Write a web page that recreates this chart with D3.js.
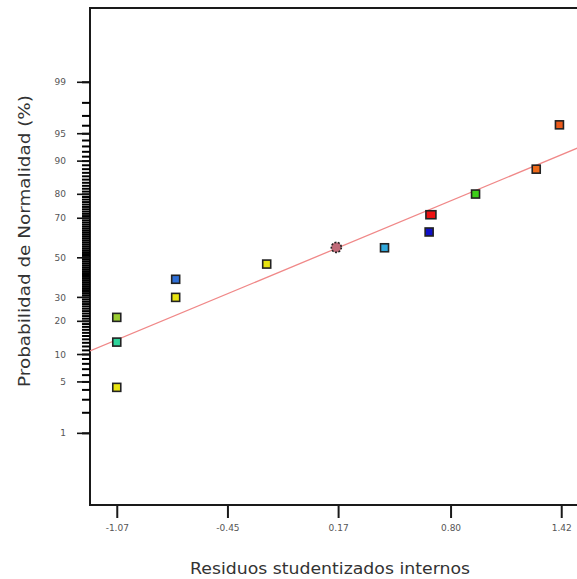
<!DOCTYPE html>
<html>
<head>
<meta charset="utf-8">
<script src="https://cdn.jsdelivr.net/npm/d3@7"></script>
<style>
  html, body { margin: 0; padding: 0; background: #fff; }
  svg { display: block; }
</style>
</head>
<body>
<svg id="chart" width="577" height="579"></svg>
<script>
// ---- data ----
const residuals = [-1.07, -1.07, -1.07, -0.74, -0.74, -0.23, 0.16, 0.43, 0.68, 0.69, 0.94, 1.28, 1.41];
const probabilities = [4.3, 13.2, 21.5, 30.0, 38.8, 46.7, 55.5, 55.3, 63.4, 71.6, 80.1, 88.0, 96.1];
const xTickValues = [-1.07, -0.45, 0.17, 0.80, 1.42];
const xTickLabels = ["-1.07", "-0.45", "0.17", "0.80", "1.42"];
const yTickValues = [1, 5, 10, 20, 30, 50, 70, 80, 90, 95, 99];
const yMinorTicks = d3.range(1, 100);
const fitMean = 0.0335;
const fitSd = 1.016;

// ---- styles ----
const pointColors = ["#e8e410", "#2fd39a", "#9acd32", "#e8e410", "#2f6fd6", "#e8e410", "#c06a78",
                     "#2fa8dc", "#1010c8", "#ee1010", "#3dd01a", "#ee6a1a", "#ec5a1a"];
const pointShapes = ["s","s","s","s","s","s","c","s","s","r","s","s","s"];

// inverse normal CDF (Acklam)
function probit(p) {
  const a = [-3.969683028665376e+01, 2.209460984245205e+02, -2.759285104469687e+02, 1.383577518672690e+02, -3.066479806614716e+01, 2.506628277459239e+00];
  const b = [-5.447609879822406e+01, 1.615858368580409e+02, -1.556989798598866e+02, 6.680131188771972e+01, -1.328068155288572e+01];
  const c = [-7.784894002430293e-03, -3.223964580411365e-01, -2.400758277161838e+00, -2.549732539343734e+00, 4.374664141464968e+00, 2.938163982698783e+00];
  const d = [7.784695709041462e-03, 3.224671290700398e-01, 2.445134137142996e+00, 3.754408661907416e+00];
  const pl = 0.02425, ph = 1 - pl;
  let q, r;
  if (p < pl) { q = Math.sqrt(-2 * Math.log(p));
    return (((((c[0]*q+c[1])*q+c[2])*q+c[3])*q+c[4])*q+c[5]) / ((((d[0]*q+d[1])*q+d[2])*q+d[3])*q+1); }
  if (p <= ph) { q = p - 0.5; r = q*q;
    return (((((a[0]*r+a[1])*r+a[2])*r+a[3])*r+a[4])*r+a[5])*q / (((((b[0]*r+b[1])*r+b[2])*r+b[3])*r+b[4])*r+1); }
  q = Math.sqrt(-2 * Math.log(1 - p));
  return -(((((c[0]*q+c[1])*q+c[2])*q+c[3])*q+c[4])*q+c[5]) / ((((d[0]*q+d[1])*q+d[2])*q+d[3])*q+1);
}

(function () {
const svg = d3.select("#chart");
const pLeft = 90, pRight = 588, pTop = 8, pBottom = 505;

const x = d3.scaleLinear().domain([-1.22, 1.57]).range([pLeft, pRight]);
const z = d3.scaleLinear().domain([-3.276, 3.311]).range([pBottom, pTop]);
const yP = p => z(probit(p / 100));

// frame
svg.append("rect").attr("x", pLeft).attr("y", pTop).attr("width", pRight - pLeft).attr("height", pBottom - pTop)
  .attr("fill", "none").attr("stroke", "#1a1a1a").attr("stroke-width", 2);

// y minor ticks
svg.append("g").selectAll("line").data(yMinorTicks).join("line")
  .attr("x1", pLeft - 8).attr("x2", pLeft)
  .attr("y1", d => yP(d)).attr("y2", d => yP(d))
  .attr("stroke", "#000").attr("stroke-width", 2);

// y major ticks + labels
svg.append("g").selectAll("line").data(yTickValues).join("line")
  .attr("x1", pLeft - 13).attr("x2", pLeft)
  .attr("y1", d => yP(d)).attr("y2", d => yP(d))
  .attr("stroke", "#111").attr("stroke-width", 1.6);
svg.append("g").selectAll("text").data(yTickValues).join("text")
  .attr("x", pLeft - 24).attr("y", d => yP(d)).attr("dy", "0.35em")
  .attr("text-anchor", "end").attr("font-family", "DejaVu Sans, sans-serif")
  .attr("font-size", 9).attr("fill", "#555").text(d => d);

// x axis
const xAxis = d3.axisBottom(x).tickValues(xTickValues)
  .tickFormat((d, i) => xTickLabels[i]).tickSize(13).tickPadding(7);
const gx = svg.append("g").attr("transform", `translate(0,${pBottom})`).call(xAxis);
gx.select(".domain").remove();
gx.selectAll(".tick line").attr("stroke", "#1a1a1a").attr("stroke-width", 2);
gx.selectAll(".tick text").attr("font-family", "DejaVu Sans, sans-serif")
  .attr("font-size", 9).attr("fill", "#555");

// fit line
svg.append("clipPath").attr("id", "plotclip").append("rect")
  .attr("x", pLeft).attr("y", pTop).attr("width", pRight - pLeft).attr("height", pBottom - pTop);
const xd = x.domain();
svg.append("line").attr("clip-path", "url(#plotclip)")
  .attr("x1", x(xd[0])).attr("y1", z((xd[0] - fitMean) / fitSd))
  .attr("x2", x(xd[1])).attr("y2", z((xd[1] - fitMean) / fitSd))
  .attr("stroke", "#f08888").attr("stroke-width", 1.3);

// points
const pts = residuals.map((r, i) => ({ r, p: probabilities[i], c: pointColors[i], s: pointShapes[i] }));
const gp = svg.append("g");
pts.forEach(d => {
  const cx = x(d.r), cy = yP(d.p);
  if (d.s === "c") {
    gp.append("circle").attr("cx", cx).attr("cy", cy).attr("r", 5)
      .attr("fill", d.c).attr("stroke", "#222").attr("stroke-width", 1.6).attr("stroke-dasharray", "2,1.5");
  } else {
    const w = d.s === "r" ? 10 : 8, h = 8;
    gp.append("rect").attr("x", cx - w / 2).attr("y", cy - h / 2).attr("width", w).attr("height", h)
      .attr("fill", d.c).attr("stroke", "#222").attr("stroke-width", 1.6);
  }
});

// axis titles
svg.append("text").attr("x", 330).attr("y", 574).attr("text-anchor", "middle")
  .attr("font-family", "DejaVu Sans, sans-serif").attr("font-size", 15).attr("fill", "#333")
  .attr("textLength", 280).attr("lengthAdjust", "spacingAndGlyphs")
  .text("Residuos studentizados internos");
svg.append("text").attr("transform", "translate(30,241) rotate(-90)").attr("text-anchor", "middle")
  .attr("font-family", "DejaVu Sans, sans-serif").attr("font-size", 15).attr("fill", "#333")
  .attr("textLength", 292).attr("lengthAdjust", "spacingAndGlyphs")
  .text("Probabilidad de Normalidad (%)");
})();
</script>
</body>
</html>
